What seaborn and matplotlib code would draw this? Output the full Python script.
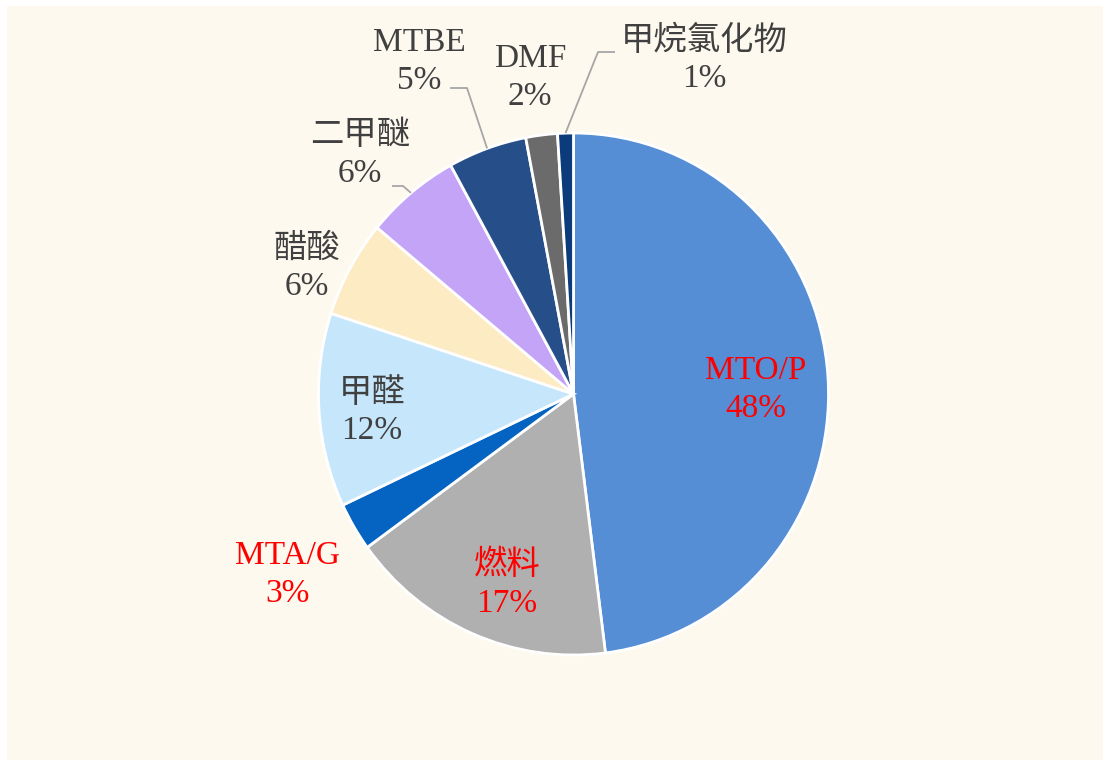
import numpy as np
import matplotlib
matplotlib.use("Agg")
import matplotlib.pyplot as plt
from matplotlib.patches import Rectangle
import seaborn as sns

# ---- data ----
categories = ["MTO/P", "燃料", "MTA/G", "甲醛", "醋酸", "二甲醚", "MTBE", "DMF", "甲烷氯化物"]
values = [48, 17, 3, 12, 6, 6, 5, 2, 1]
colors = ["#558ED5", "#B0B0B0", "#0563C1", "#C6E7FB", "#FDEBC3",
          "#C4A4F7", "#264F8A", "#6B6B6B", "#0B3B7A"]
label_colors = ["#FF0000", "#FF0000", "#FF0000", "#404040", "#404040",
                "#404040", "#404040", "#404040", "#404040"]

sns.set_style("white")
plt.rcParams["font.family"] = ["Liberation Serif", "Noto Sans CJK SC", "DejaVu Sans"]

W, H = 1103, 760
fig = plt.figure(figsize=(W / 100, H / 100), dpi=100)
fig.patch.set_facecolor("white")

# background panel in its own axes, below the pie
bg = fig.add_axes([0, 0, 1, 1], zorder=-5)
bg.set_xlim(0, W)
bg.set_ylim(H, 0)
bg.axis("off")
bg.add_patch(Rectangle((7, 6), W - 7, H - 6, facecolor="#FEF9EF", edgecolor="none"))

# pixel geometry of the pie (image coordinates)
CX, CY, RX, RY = 573.5, 394.0, 255.0, 261.0

ax = fig.add_axes([0, 0, 1, 1], zorder=1)
ax.patch.set_alpha(0)
palette = sns.color_palette(colors)
wedges, _ = ax.pie(values, colors=palette, startangle=90, counterclock=False,
                   radius=1, center=(0, 0),
                   wedgeprops=dict(edgecolor="white", linewidth=2))
ax.set_aspect("auto")
ax.set_xlim(-CX / RX, (W - CX) / RX)
ax.set_ylim(-(H - CY) / RY, CY / RY)
ax.axis("off")


def to_data(px, py):
    return (px - CX) / RX, (CY - py) / RY


# label positions (image pixel coordinates, layout only)
label_pos = {
    "MTO/P": (756, 390),
    "燃料": (507, 584),
    "MTA/G": (288, 575),
    "甲醛": (372, 412),
    "醋酸": (307, 268),
    "二甲醚": (360, 155),
    "MTBE": (419, 62),
    "DMF": (530, 78),
    "甲烷氯化物": (704, 60),
}

total = sum(values)
for cat, val, col in zip(categories, values, label_colors):
    px, py = label_pos[cat]
    x, y = to_data(px, py)
    ax.text(x, y, f"{cat}\n{round(100 * val / total)}%", ha="center", va="center",
            fontsize=24, color=col, linespacing=1.3)

# leader lines: text-side elbow (layout) -> wedge mid-point on rim (from data)
leaders = {
    "二甲醚": [(392, 186), (403, 186)],
    "MTBE": [(450, 88), (467, 88)],
    "甲烷氯化物": [(615, 52), (598, 52)],
}
cum = np.cumsum([0] + values)
for cat, pts in leaders.items():
    i = categories.index(cat)
    mid = (cum[i] + cum[i + 1]) / 2 / total
    ang = np.deg2rad(90 - 360 * mid)
    ex, ey = np.cos(ang), np.sin(ang)
    xs = [to_data(*p)[0] for p in pts] + [ex]
    ys = [to_data(*p)[1] for p in pts] + [ey]
    ax.plot(xs, ys, color="#A6A6A6", lw=1.3, solid_capstyle="butt")

fig.savefig("out.png", dpi=100)
